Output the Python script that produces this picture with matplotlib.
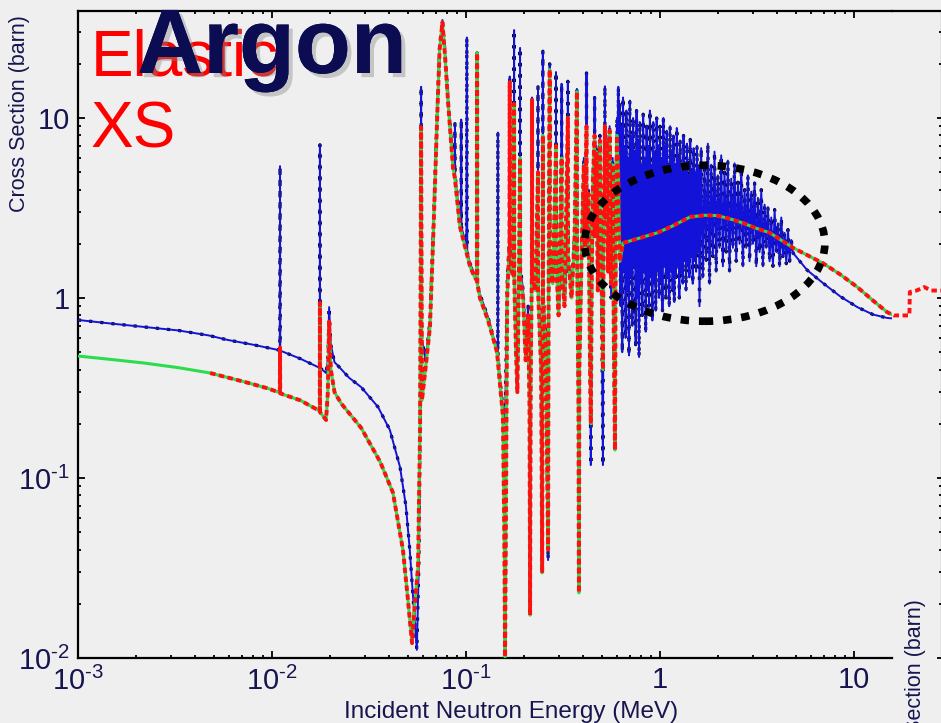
import numpy as np
import matplotlib
matplotlib.use("Agg")
import matplotlib.pyplot as plt
from matplotlib.patches import Ellipse
from matplotlib.lines import Line2D
import matplotlib.patheffects as pe

plt.rcParams['font.family'] = ['Liberation Sans', 'DejaVu Sans']
plt.rcParams['mathtext.fontset'] = 'custom'
plt.rcParams['mathtext.rm'] = 'Liberation Sans'
plt.rcParams['mathtext.default'] = 'regular'

# total cross section (blue / black dotted), MeV vs barn
total_e = [
    0.001, 0.0015, 0.0022, 0.0033, 0.0047, 0.0059, 0.0080, 0.0108,
    0.01097, 0.01100, 0.01103, 0.0140, 0.0172, 0.01763, 0.01766, 0.01769,
    0.0190, 0.0194, 0.0197, 0.0201, 0.0210, 0.0219, 0.0250, 0.0288,
    0.0352, 0.0405, 0.0457, 0.0490, 0.0513, 0.0540, 0.0558, 0.0572,
    0.0583, 0.0587, 0.0591, 0.0620, 0.0652, 0.0680, 0.0710, 0.0731,
    0.0756, 0.0780, 0.0807, 0.0857, 0.0875, 0.0877, 0.0879, 0.0930,
    0.0943, 0.0945, 0.0947, 0.1005, 0.1010, 0.1015, 0.1050, 0.1110,
    0.1138, 0.1141, 0.1144, 0.1180, 0.1300, 0.1445, 0.1458, 0.1460,
    0.1462, 0.1550, 0.1590,
    0.163, 0.1675, 0.168, 0.1685, 0.172, 0.1765, 0.177, 0.1775, 0.181,
    0.184, 0.187, 0.1898, 0.190, 0.1903, 0.197, 0.203, 0.209, 0.2125,
    0.214, 0.2155, 0.2185, 0.219, 0.2195, 0.228, 0.2348, 0.235, 0.2352,
    0.244, 0.247, 0.2485, 0.249, 0.2495, 0.258, 0.265, 0.2665, 0.2698,
    0.270, 0.2705, 0.280, 0.2908, 0.291, 0.2915, 0.300, 0.3108, 0.311,
    0.3115, 0.322, 0.3348, 0.335, 0.3355, 0.350, 0.362, 0.3728, 0.373,
    0.3735, 0.380, 0.382, 0.384, 0.395, 0.405, 0.410, 0.4178, 0.418,
    0.4185, 0.428, 0.435, 0.440, 0.445, 0.452, 0.4598, 0.460, 0.4605,
    0.470, 0.478, 0.490, 0.500, 0.508, 0.512, 0.5198, 0.520, 0.5205,
    0.530, 0.540, 0.550, 0.560, 0.570, 0.578, 0.586, 0.592, 0.600,
    0.6098, 0.610, 0.6105,
    # dense unresolved band
    0.620, 0.626, 0.632, 0.639, 0.645, 0.652, 0.658, 0.665, 0.671, 0.678,
    0.685, 0.692, 0.699, 0.706, 0.713, 0.720, 0.727, 0.734, 0.742, 0.749,
    0.757, 0.764, 0.772, 0.780, 0.787, 0.795, 0.803, 0.811, 0.819, 0.828,
    0.836, 0.844, 0.853, 0.861, 0.870, 0.878, 0.887, 0.896, 0.905, 0.914,
    0.923, 0.932, 0.942, 0.951, 0.961, 0.970, 0.980, 0.990,
    1.000, 1.010, 1.020, 1.030, 1.041, 1.051, 1.062, 1.072, 1.083, 1.094,
    1.105, 1.116, 1.127, 1.138, 1.150, 1.161, 1.173, 1.185, 1.197, 1.209,
    1.221, 1.233, 1.245, 1.258, 1.270, 1.283, 1.296, 1.309, 1.322, 1.335,
    1.349, 1.362, 1.376, 1.390, 1.404, 1.418, 1.432, 1.446, 1.461, 1.475,
    1.490, 1.505, 1.520, 1.535, 1.551, 1.566, 1.582, 1.598,
    1.630, 1.663, 1.696, 1.730, 1.765, 1.800, 1.836, 1.873, 1.910, 1.948,
    1.987, 2.027, 2.068, 2.109, 2.151, 2.194, 2.238, 2.283, 2.329, 2.375,
    2.423, 2.471, 2.521, 2.571, 2.623, 2.675, 2.729, 2.783, 2.839, 2.896,
    2.954, 3.013, 3.073, 3.135, 3.197, 3.261, 3.327, 3.393, 3.461, 3.530,
    3.601, 3.673, 3.746, 3.821, 3.898, 3.976, 4.055, 4.136, 4.219, 4.304,
    4.390, 4.478, 4.567, 4.659, 4.752, 4.850,
    5.73, 6.92, 8.5, 10.4, 12.5, 14.8, 15.8,
]
total_xs = [
    0.755, 0.72, 0.69, 0.66, 0.62, 0.585, 0.55, 0.514,
    0.51, 5.4, 0.51, 0.46, 0.414, 0.41, 7.1, 0.41,
    0.383, 0.45, 0.89, 0.55, 0.44, 0.42, 0.36, 0.32,
    0.248, 0.185, 0.115, 0.07, 0.040, 0.018, 0.0111, 0.035,
    0.4, 14.9, 0.6, 0.45, 0.75, 2.6, 10.5, 25,
    35, 23, 13, 5.6, 4.9, 9.3, 4.8, 2.7,
    2.55, 9.8, 2.5, 1.9, 28, 1.8, 1.55, 1.35,
    1.25, 23, 1.2, 1.05, 0.78, 0.51, 0.48, 8.3,
    0.47, 0.24, 0.20,
    1.2, 2.2, 17, 2.0, 1.6, 1.5, 30.8, 1.4, 0.6,
    0.35, 1.3, 1.6, 24.5, 1.5, 1.1, 0.5, 0.9, 0.3,
    0.02, 0.4, 1.5, 13, 1.4, 1.2, 1.3, 14.9, 1.2,
    0.5, 0.03, 1.0, 23.5, 1.1, 0.6, 0.035, 1.0, 2.0,
    20, 1.9, 1.3, 1.8, 18, 1.7, 0.9, 1.6, 15.5,
    1.5, 1.0, 1.9, 16, 1.8, 1.1, 2.2, 2.5, 14.5,
    2.2, 0.3, 0.025, 0.5, 2.0, 6, 1.8, 2.3, 17.8,
    2.2, 4, 0.6, 0.118, 1.5, 5, 2.5, 13, 2.4,
    7, 1.2, 8, 1.0, 0.118, 2, 3, 15, 3,
    8, 1.5, 9, 1.0, 6, 0.5, 0.2, 3, 10,
    3, 14.9, 3,
    12, 0.9, 9, 0.5, 13, 1.4, 7, 0.6, 11, 1.1,
    6, 0.48, 12.5, 1.3, 8, 0.7, 10, 1.5, 6.5, 0.55,
    11, 1.0, 7.5, 0.47, 9.5, 1.2, 5.5, 0.8, 10.5, 1.4,
    6, 0.65, 9, 1.1, 7, 0.9, 11, 1.3, 5.5, 0.75,
    9.5, 1.2, 6.5, 0.85, 10, 1.4, 7, 1.0,
    9, 1.2, 6, 0.85, 10, 1.5, 7, 1.0, 8.5, 1.3,
    5.5, 0.9, 9, 1.4, 6.5, 1.1, 8, 0.95, 5.5, 1.3,
    8.8, 1.5, 6, 1.0, 7.5, 1.4, 5, 1.2, 8, 1.6,
    5.5, 1.1, 7.2, 1.5, 4.8, 1.3, 7.6, 1.7, 5.2, 1.2,
    6.8, 1.6, 5, 1.4, 7, 1.8, 5.4, 0.9,
    6.8, 1.3, 5.2, 1.6, 7.2, 1.2, 5.5, 1.7, 6.5, 1.4,
    4.8, 1.9, 6.2, 1.5, 5, 1.8, 5.8, 1.4, 4.6, 1.9,
    5.6, 1.6, 4.4, 2.0, 5.3, 1.5, 4.0, 1.9, 4.8, 1.6,
    3.9, 2.0, 4.4, 1.5, 3.6, 1.8, 4.0, 1.5, 3.3, 1.9,
    3.2, 1.6, 2.8, 1.5, 3.1, 1.8, 2.6, 1.5, 2.8, 1.7,
    2.3, 1.55, 2.4, 1.6, 2.1, 1.78,
    1.43, 1.21, 1.02, 0.89, 0.81, 0.775, 0.77,
]

# elastic cross section (green / red dashed)
elastic_e = [
    0.001, 0.0015, 0.0022, 0.0033, 0.0048, 0.0070, 0.0095, 0.01075,
    0.01097, 0.01100, 0.01103, 0.0140, 0.0172, 0.01763, 0.01766, 0.01769,
    0.0190, 0.0194, 0.0197, 0.0201, 0.0210, 0.0227, 0.0288, 0.0361,
    0.0420, 0.0473, 0.0500, 0.0527, 0.0545, 0.0566, 0.0580, 0.0587,
    0.0593, 0.0625, 0.0652, 0.0680, 0.0710, 0.0731, 0.0756, 0.0780,
    0.0807, 0.0857, 0.0877, 0.0930, 0.1050, 0.1110, 0.1138, 0.1141,
    0.1144, 0.1180, 0.1300, 0.1445, 0.1550, 0.1575, 0.1590, 0.1605,
    0.163, 0.1675, 0.168, 0.1685, 0.172, 0.1765, 0.177, 0.1775, 0.181,
    0.184, 0.187, 0.190, 0.1903, 0.197, 0.203, 0.209, 0.2125, 0.214,
    0.2155, 0.2185, 0.219, 0.2195, 0.228, 0.235, 0.2352, 0.244, 0.247,
    0.2485, 0.249, 0.2495, 0.258, 0.265, 0.2665, 0.270, 0.2705, 0.280,
    0.291, 0.2915, 0.300, 0.311, 0.3115, 0.322, 0.335, 0.3355, 0.350,
    0.362, 0.373, 0.3735, 0.380, 0.382, 0.384, 0.395, 0.405, 0.410,
    0.418, 0.4185, 0.428, 0.435, 0.440, 0.445, 0.452, 0.460, 0.4605,
    0.470, 0.478, 0.490, 0.500, 0.508, 0.512, 0.520, 0.5205, 0.530,
    0.540, 0.550, 0.560, 0.570, 0.578, 0.586, 0.592, 0.600, 0.610,
    0.615, 0.622,
    0.644, 0.75, 0.966, 1.15, 1.43, 1.7, 1.97, 2.3, 2.68, 3.1,
    3.69, 4.2, 4.85, 5.8, 6.92, 8.5, 10.4, 12.5, 14.8, 16.0,
    19.3, 19.4, 21.0, 23.0, 25.0, 30.0,
]
elastic_xs = [
    0.476, 0.455, 0.435, 0.41, 0.383, 0.345, 0.315, 0.30,
    0.30, 0.53, 0.295, 0.27, 0.239, 0.235, 0.94, 0.232,
    0.21, 0.3, 0.74, 0.4, 0.3, 0.26, 0.19, 0.123,
    0.083, 0.040, 0.022, 0.0121, 0.02, 0.032, 0.2, 8.9,
    0.27, 0.45, 0.69, 2.4, 10, 24, 34, 22,
    12.6, 5.3, 4.6, 2.5, 1.49, 1.3, 1.25, 23,
    1.2, 1.0, 0.75, 0.5, 0.22, 0.05, 0.0101, 0.05,
    1.0, 2.0, 15.8, 1.8, 1.4, 1.3, 12, 1.2, 0.5,
    0.3, 1.1, 6, 1.3, 1.0, 0.45, 0.8, 0.25, 0.0173,
    0.35, 1.4, 12.6, 1.3, 1.1, 5, 1.1, 0.4, 0.0297,
    0.9, 8, 1.0, 0.5, 0.04, 0.9, 18.6, 1.8, 1.2,
    7, 1.6, 0.8, 6, 1.4, 0.9, 10, 1.7, 1.0,
    2.0, 14, 2.0, 0.25, 0.023, 0.4, 1.9, 5.5, 1.7,
    9, 2.0, 3.8, 0.5, 0.2, 1.4, 4.8, 8, 2.2,
    6.5, 1.1, 7.5, 1.2, 0.4, 1.8, 9, 2.8, 7.5,
    1.4, 8.5, 1.2, 5.5, 0.6, 0.143, 2.5, 8, 5,
    2.5, 1.6,
    2.02, 2.12, 2.3, 2.5, 2.82, 2.88, 2.87, 2.75, 2.61, 2.45,
    2.3, 2.1, 1.9, 1.72, 1.56, 1.35, 1.15, 0.97, 0.835, 0.80,
    0.80, 1.08, 1.1, 1.15, 1.1, 1.1,
]
red_start = 0.0048

x_ticks = [1e-3, 1e-2, 1e-1, 1, 10]
x_ticklabels = ['$10^{\u20103}$', '$10^{\u20102}$', '$10^{\u20101}$', '1', '10']
y_ticks = [1e-2, 1e-1, 1, 10]
y_ticklabels = ['$10^{\u20102}$', '$10^{\u20101}$', '1', '10']

W, H = 941, 723
bg = '#efefef'
navy = '#16154f'
fig = plt.figure(figsize=(W / 100, H / 100), dpi=100, facecolor=bg)
ax = fig.add_axes([78 / W, 1 - 658 / H, 814 / W, 647 / H], facecolor=bg)

el_e = np.array(elastic_e)
el_xs = np.array(elastic_xs)
red_mask = el_e >= red_start

ax.plot(total_e, total_xs, color='black', lw=2.3, ls=(0, (1, 2.5)), zorder=2)
ax.plot(total_e, total_xs, color='#1212d8', lw=1.4, zorder=3)
ax.plot(el_e, el_xs, color='#2cdc4c', lw=2.2, zorder=4)
ax.plot(el_e[red_mask], el_xs[red_mask], color='#ff0f0f', lw=2.8,
        ls=(0, (1.4, 0.9)), zorder=5, clip_on=False)

ax.set_xscale('log')
ax.set_yscale('log')
ax.set_xlim(1e-3, 15.7)
ax.set_ylim(1e-2, 39.3)
ax.set_xticks(x_ticks)
ax.set_xticklabels(x_ticklabels)
ax.set_yticks(y_ticks)
ax.set_yticklabels(y_ticklabels)

for s in ['left', 'bottom', 'top']:
    ax.spines[s].set_linewidth(1.6)
ax.spines['right'].set_visible(False)
ax.tick_params(which='both', direction='in', top=True, right=False,
               colors='black', labelcolor=navy, labelsize=21, width=1.3)
ax.tick_params(which='major', length=5)
ax.tick_params(which='minor', length=2.5)
ax.tick_params(axis='x', pad=6)
ax.tick_params(axis='y', pad=6)

ax.add_patch(Ellipse((0.770, 0.641), 0.295, 0.241, transform=ax.transAxes,
                     fill=False, ec='black', lw=5.5, ls=(0, (1.1, 1.3)),
                     zorder=8))

# top frame line continues to the next panel
fig.add_artist(Line2D([892 / W, 1], [1 - 11 / H, 1 - 11 / H],
                      color='black', lw=1.6, transform=fig.transFigure))

# edge of the neighbouring panel
ax2 = fig.add_axes([940.5 / W, 1 - 658 / H, 0.2, 647 / H])
ax2.set_yscale('log')
ax2.set_ylim(1e-2, 39.3)
ax2.patch.set_visible(False)
for s in ['right', 'top', 'bottom']:
    ax2.spines[s].set_visible(False)
ax2.set_xticks([])
ax2.tick_params(axis='y', which='both', direction='out', labelleft=False,
                width=1.3)
ax2.tick_params(axis='y', which='major', length=3)
ax2.tick_params(axis='y', which='minor', length=1.5)

fig.text(511 / W, 1 - 712 / H, 'Incident Neutron Energy (MeV)', ha='center',
         va='center', fontsize=17.5, color=navy)
fig.text(20 / W, 1 - 114 / H, 'Cross Section (barn)', rotation=90,
         ha='center', va='center', fontsize=15.5, color=navy)
fig.text(916 / W, 1 - 599 / H, 'Cross Section (barn)', rotation=90,
         ha='center', va='top', fontsize=15.5, color=navy)

fig.text(91 / W, 1 - 75 / H, 'Elastic', fontsize=46, color='#ff0000',
         va='baseline', ha='left', zorder=20)
fig.text(91 / W, 1 - 148 / H, 'XS', fontsize=46, color='#ff0000',
         va='baseline', ha='left', zorder=20)
fig.text(137 / W, 1 - 73 / H, 'Argon', fontsize=66, fontweight='bold',
         color='#0c0c52', va='baseline', ha='left', zorder=21,
         path_effects=[pe.withSimplePatchShadow(offset=(3, -3),
                                                shadow_rgbFace='#888888',
                                                alpha=0.4), pe.Normal()])

fig.savefig('out.png', dpi=100, facecolor=bg)
